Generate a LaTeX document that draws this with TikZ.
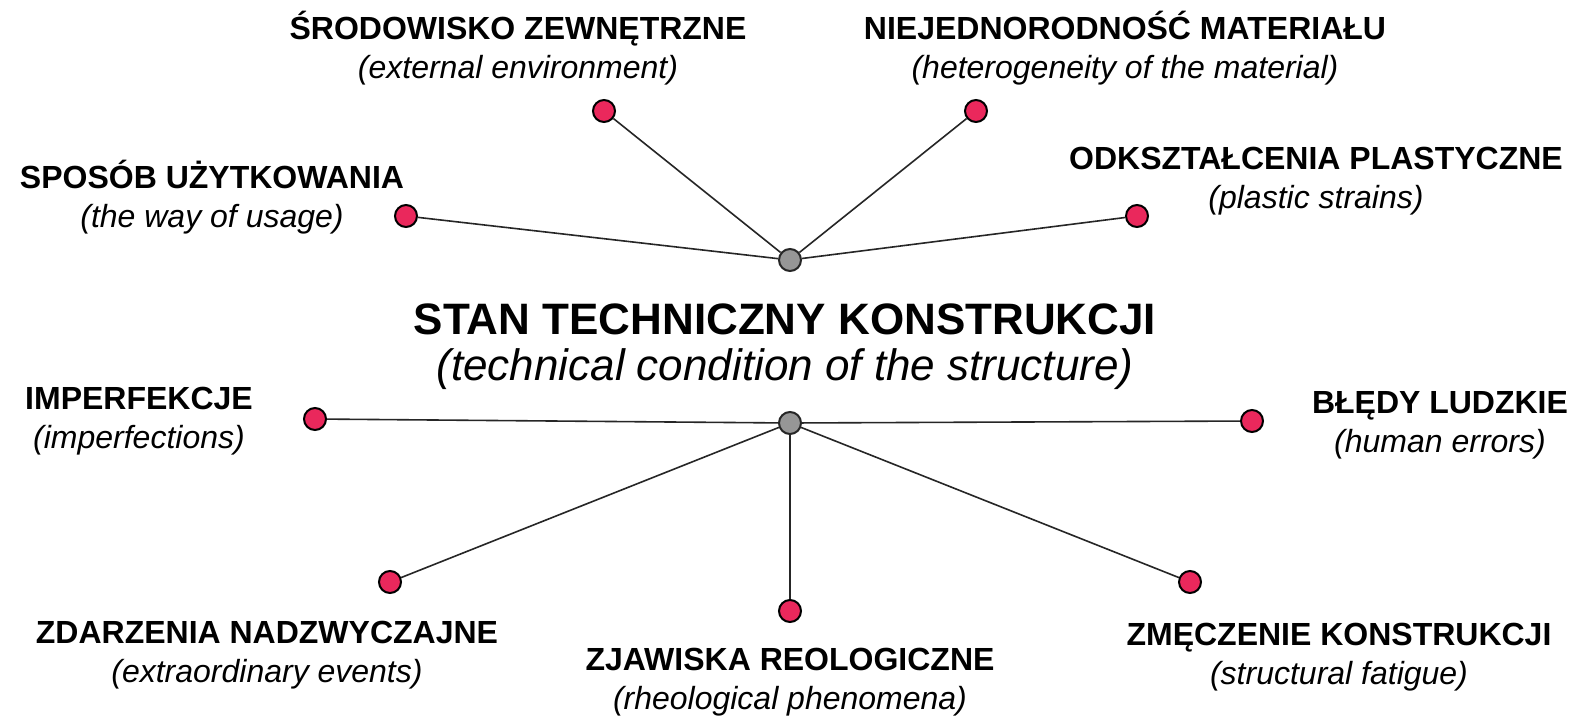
\documentclass[tikz,border=0pt]{standalone}
\usepackage{fontspec}
\setmainfont{Liberation Sans}
\definecolor{dotpink}{RGB}{234,40,92}
\definecolor{hubgray}{RGB}{150,150,150}
\begin{document}
\begin{tikzpicture}[x=0.5pt,y=-0.5pt,
  factor/.style={circle,draw=black,line width=1pt,fill=dotpink,inner sep=0pt,minimum size=11pt},
  hub/.style={circle,draw=black!85,line width=1pt,fill=hubgray,inner sep=0pt,minimum size=11pt},
  spoke/.style={draw=black!85,line width=0.8pt},
  lbl/.style={align=center,font=\fontsize{16}{19.5}\selectfont,inner sep=0pt},
  title/.style={align=center,font=\fontsize{22}{22}\selectfont,inner sep=0pt}]
\useasboundingbox (0,0) rectangle (1578,718);
\fill[white] (0,0) rectangle (1578,718);

% hubs
\node[hub] (up) at (790,260) {};
\node[hub] (lo) at (790,423) {};

% factor dots
\node[factor] (srod) at (604,111) {};
\node[factor] (niej) at (976,111) {};
\node[factor] (spos) at (406,216) {};
\node[factor] (odks) at (1137,216) {};
\node[factor] (impf) at (315,419) {};
\node[factor] (bled) at (1252,421) {};
\node[factor] (zdar) at (390,582) {};
\node[factor] (zjaw) at (790,611) {};
\node[factor] (zmec) at (1190,582) {};

% spokes
\foreach \n in {srod,niej,spos,odks} \draw[spoke] (\n) -- (up);
\foreach \n in {impf,bled,zdar,zjaw,zmec} \draw[spoke] (\n) -- (lo);

% labels
\node[lbl] (tsrod) at (518,48) {\textbf{ŚRODOWISKO ZEWNĘTRZNE}\\\textit{(external environment)}};
\node[lbl] (tniej) at (1125,48) {\textbf{NIEJEDNORODNOŚĆ MATERIAŁU}\\\textit{(heterogeneity of the material)}};
\node[lbl] (tspos) at (212,197) {\textbf{SPOSÓB UŻYTKOWANIA}\\\textit{(the way of usage)}};
\node[lbl] (todks) at (1316,181) {\textbf{ODKSZTAŁCENIA PLASTYCZNE}\\\textit{(plastic strains)}};
\node[title] (tmain) at (785,347) {\textbf{STAN TECHNICZNY KONSTRUKCJI}\\[1pt]\textit{(technical condition of the structure)}};
\node[lbl] (timpf) at (139,421) {\textbf{IMPERFEKCJE}\\\textit{(imperfections)}};
\node[lbl] (tbled) at (1440,425) {\textbf{BŁĘDY LUDZKIE}\\\textit{(human errors)}};
\node[lbl] (tzdar) at (267,655) {\textbf{ZDARZENIA NADZWYCZAJNE}\\\textit{(extraordinary events)}};
\node[lbl] (tzjaw) at (790,682) {\textbf{ZJAWISKA REOLOGICZNE}\\\textit{(rheological phenomena)}};
\node[lbl] (tzmec) at (1339,657) {\textbf{ZMĘCZENIE KONSTRUKCJI}\\\textit{(structural fatigue)}};
\end{tikzpicture}
\end{document}
